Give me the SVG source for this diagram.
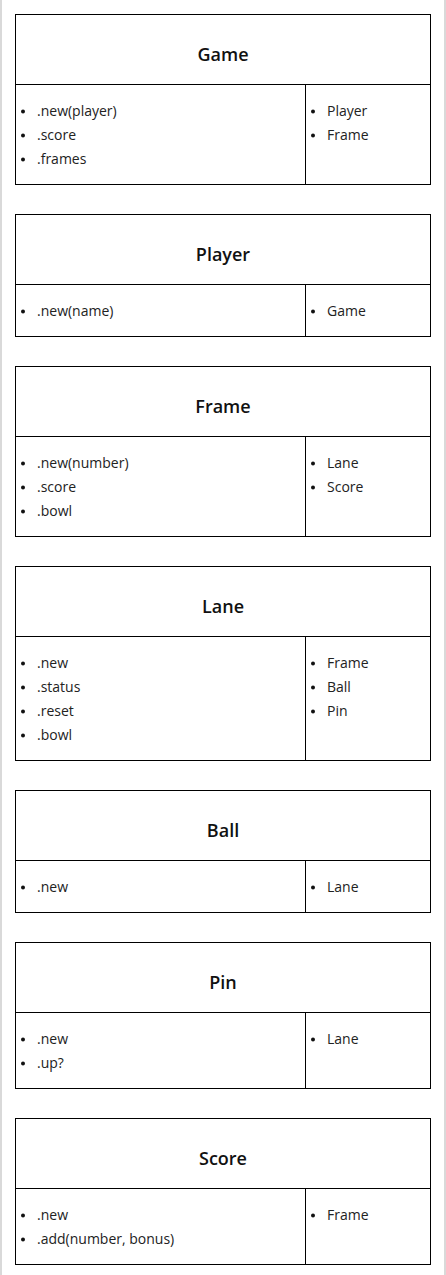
<svg xmlns="http://www.w3.org/2000/svg" width="446" height="1275" viewBox="0 0 446 1275">
<style>
.box{fill:#fff;stroke:#000;stroke-width:1}
.ln{stroke:#000;stroke-width:1}
.t{font-family:"Open Sans","Noto Sans",sans-serif;font-size:18px;font-weight:600;fill:#111;text-anchor:middle}
.i{font-family:"Open Sans","Noto Sans",sans-serif;font-size:14px;fill:#222}
.b{fill:#111}
</style>
<rect x="0" y="0" width="446" height="1275" fill="#fff"/>
<line x1="1" y1="0" x2="1" y2="1275" stroke="#d9d9d9" stroke-width="2"/>
<line x1="445" y1="0" x2="445" y2="1275" stroke="#d9d9d9" stroke-width="2"/>
<g id="connectors"></g>
<g id="game">
<rect class="box" x="15.5" y="14.5" width="415" height="170"/>
<line class="ln" x1="15.5" y1="84.5" x2="430.5" y2="84.5"/>
<line class="ln" x1="305.5" y1="84.5" x2="305.5" y2="184.5"/>
<text class="t" x="223" y="61">Game</text>
<circle class="b" cx="23" cy="111.5" r="2"/><text class="i" x="37" y="116">.new(player)</text>
<circle class="b" cx="23" cy="135.5" r="2"/><text class="i" x="37" y="140">.score</text>
<circle class="b" cx="23" cy="159.5" r="2"/><text class="i" x="37" y="164">.frames</text>
<circle class="b" cx="313" cy="111.5" r="2"/><text class="i" x="327" y="116">Player</text>
<circle class="b" cx="313" cy="135.5" r="2"/><text class="i" x="327" y="140">Frame</text>
</g>
<g id="player">
<rect class="box" x="15.5" y="214.5" width="415" height="122"/>
<line class="ln" x1="15.5" y1="284.5" x2="430.5" y2="284.5"/>
<line class="ln" x1="305.5" y1="284.5" x2="305.5" y2="336.5"/>
<text class="t" x="223" y="261">Player</text>
<circle class="b" cx="23" cy="311.5" r="2"/><text class="i" x="37" y="316">.new(name)</text>
<circle class="b" cx="313" cy="311.5" r="2"/><text class="i" x="327" y="316">Game</text>
</g>
<g id="frame">
<rect class="box" x="15.5" y="366.5" width="415" height="170"/>
<line class="ln" x1="15.5" y1="436.5" x2="430.5" y2="436.5"/>
<line class="ln" x1="305.5" y1="436.5" x2="305.5" y2="536.5"/>
<text class="t" x="223" y="413">Frame</text>
<circle class="b" cx="23" cy="463.5" r="2"/><text class="i" x="37" y="468">.new(number)</text>
<circle class="b" cx="23" cy="487.5" r="2"/><text class="i" x="37" y="492">.score</text>
<circle class="b" cx="23" cy="511.5" r="2"/><text class="i" x="37" y="516">.bowl</text>
<circle class="b" cx="313" cy="463.5" r="2"/><text class="i" x="327" y="468">Lane</text>
<circle class="b" cx="313" cy="487.5" r="2"/><text class="i" x="327" y="492">Score</text>
</g>
<g id="lane">
<rect class="box" x="15.5" y="566.5" width="415" height="194"/>
<line class="ln" x1="15.5" y1="636.5" x2="430.5" y2="636.5"/>
<line class="ln" x1="305.5" y1="636.5" x2="305.5" y2="760.5"/>
<text class="t" x="223" y="613">Lane</text>
<circle class="b" cx="23" cy="663.5" r="2"/><text class="i" x="37" y="668">.new</text>
<circle class="b" cx="23" cy="687.5" r="2"/><text class="i" x="37" y="692">.status</text>
<circle class="b" cx="23" cy="711.5" r="2"/><text class="i" x="37" y="716">.reset</text>
<circle class="b" cx="23" cy="735.5" r="2"/><text class="i" x="37" y="740">.bowl</text>
<circle class="b" cx="313" cy="663.5" r="2"/><text class="i" x="327" y="668">Frame</text>
<circle class="b" cx="313" cy="687.5" r="2"/><text class="i" x="327" y="692">Ball</text>
<circle class="b" cx="313" cy="711.5" r="2"/><text class="i" x="327" y="716">Pin</text>
</g>
<g id="ball">
<rect class="box" x="15.5" y="790.5" width="415" height="122"/>
<line class="ln" x1="15.5" y1="860.5" x2="430.5" y2="860.5"/>
<line class="ln" x1="305.5" y1="860.5" x2="305.5" y2="912.5"/>
<text class="t" x="223" y="837">Ball</text>
<circle class="b" cx="23" cy="887.5" r="2"/><text class="i" x="37" y="892">.new</text>
<circle class="b" cx="313" cy="887.5" r="2"/><text class="i" x="327" y="892">Lane</text>
</g>
<g id="pin">
<rect class="box" x="15.5" y="942.5" width="415" height="146"/>
<line class="ln" x1="15.5" y1="1012.5" x2="430.5" y2="1012.5"/>
<line class="ln" x1="305.5" y1="1012.5" x2="305.5" y2="1088.5"/>
<text class="t" x="223" y="989">Pin</text>
<circle class="b" cx="23" cy="1039.5" r="2"/><text class="i" x="37" y="1044">.new</text>
<circle class="b" cx="23" cy="1063.5" r="2"/><text class="i" x="37" y="1068">.up?</text>
<circle class="b" cx="313" cy="1039.5" r="2"/><text class="i" x="327" y="1044">Lane</text>
</g>
<g id="score">
<rect class="box" x="15.5" y="1118.5" width="415" height="146"/>
<line class="ln" x1="15.5" y1="1188.5" x2="430.5" y2="1188.5"/>
<line class="ln" x1="305.5" y1="1188.5" x2="305.5" y2="1264.5"/>
<text class="t" x="223" y="1165">Score</text>
<circle class="b" cx="23" cy="1215.5" r="2"/><text class="i" x="37" y="1220">.new</text>
<circle class="b" cx="23" cy="1239.5" r="2"/><text class="i" x="37" y="1244">.add(number, bonus)</text>
<circle class="b" cx="313" cy="1215.5" r="2"/><text class="i" x="327" y="1220">Frame</text>
</g>
</svg>
